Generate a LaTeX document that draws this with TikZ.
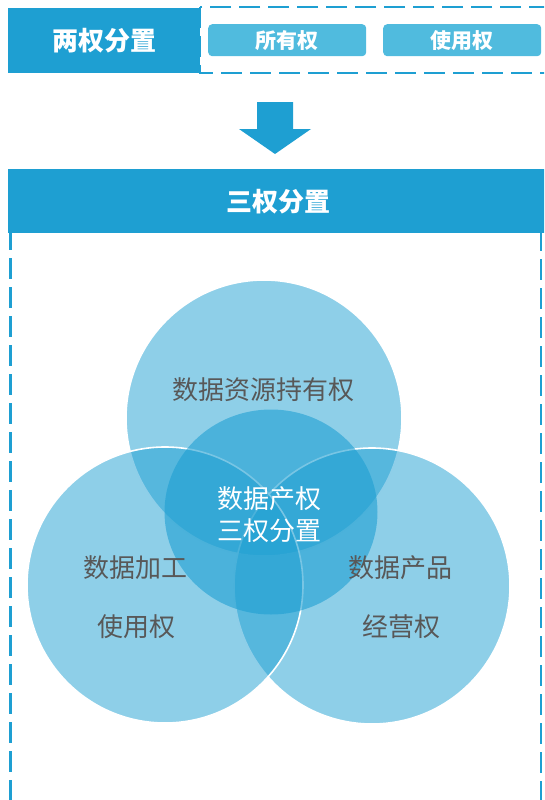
\documentclass[tikz,border=0pt]{standalone}
\usepackage{fontspec}
\newfontfamily\cjk{Noto Sans CJK SC}
\usetikzlibrary{shapes.geometric}
\definecolor{mainblue}{RGB}{30,159,210}
\definecolor{pillblue}{RGB}{80,187,222}
\definecolor{txtgray}{RGB}{88,88,88}
\tikzset{
  dashline/.style={draw=mainblue, line width=2.5pt, dash pattern=on 21pt off 8pt},
  titlebox/.style={fill=mainblue, text=white, inner sep=0pt, font=\cjk\bfseries\fontsize{26}{30}\selectfont},
  pillbox/.style={fill=pillblue, rounded corners=4pt, text=white, inner sep=0pt,
     minimum width=158pt, minimum height=32pt, font=\cjk\bfseries\fontsize{21}{25}\selectfont},
  bigcirc/.style={circle, minimum size=276pt, inner sep=0pt, fill=mainblue, fill opacity=0.5, draw=white, line width=1.6pt},
  midcirc/.style={ellipse, minimum width=213pt, minimum height=205pt, inner sep=0pt, fill=mainblue, fill opacity=0.6},
  graytext/.style={text=txtgray, font=\cjk\fontsize{26}{30}\selectfont, inner sep=0pt},
  whitetext/.style={text=white, align=center, font=\cjk\fontsize{26}{32}\selectfont, inner sep=0pt}
}
\begin{document}
\begin{tikzpicture}[x=1pt,y=-1pt]
\useasboundingbox (0,0) rectangle (544,800);
\clip (0,0) rectangle (544,800);
% top dashed group
\draw[dashline] (200,7) rectangle (570,73);
\node[titlebox, minimum width=192pt, minimum height=65pt, anchor=north west] (two) at (8,8) {两权分置};
\node[pillbox, anchor=north west] (own) at (208,24) {所有权};
\node[pillbox, anchor=north west] (use) at (383,24) {使用权};
% arrow
\fill[mainblue] (257,102) -- (293,102) -- (293,129) -- (311,129) -- (275,154) -- (239,129) -- (257,129) -- cycle;
% lower frame
\draw[dashline] (10.5,200) rectangle (541,830);
\node[titlebox, minimum width=560pt, minimum height=64pt, anchor=north west] (three) at (8,169) {};
\node[titlebox, fill=none] (threelbl) at (278,202) {三权分置};
% circles
\node[bigcirc] (ctop) at (264,418) {};
\node[bigcirc] (cright) at (372,586) {};
\node[bigcirc] (cleft) at (165,585) {};
\node[midcirc] (cmid) at (271,512) {};
% labels
\node[graytext] (ltop) at (263,390) {数据资源持有权};
\node[graytext] (lleft1) at (135,568) {数据加工};
\node[graytext] (lleft2) at (136,627) {使用权};
\node[graytext] (lright1) at (400,568) {数据产品};
\node[graytext] (lright2) at (401,627) {经营权};
\node[whitetext] (lmid) at (269,515) {数据产权\\三权分置};
\end{tikzpicture}
\end{document}
